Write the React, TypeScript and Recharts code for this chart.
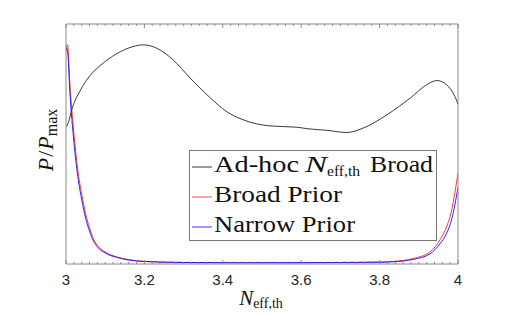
import { LineChart, Line, XAxis, YAxis } from 'recharts'

const W = 506
const H = 316
const BOX = '#8a8a8a'
const SERIF = '"Liberation Serif", "Times New Roman", serif'
const SANS = '"Liberation Sans", Arial, sans-serif'

// Ad-hoc N_eff,th, broad prior
const adhocX = [3.0, 3.006, 3.015, 3.036, 3.061, 3.087, 3.129, 3.171, 3.197, 3.231, 3.274, 3.316, 3.367, 3.41, 3.452, 3.52, 3.589, 3.617, 3.665, 3.716, 3.758, 3.818, 3.878, 3.92, 3.946, 3.971, 3.992, 4.0]
const adhocY = [0.625, 0.645, 0.706, 0.79, 0.859, 0.905, 0.959, 0.992, 1.0, 0.985, 0.93, 0.85, 0.76, 0.695, 0.658, 0.63, 0.624, 0.617, 0.61, 0.6, 0.62, 0.68, 0.757, 0.818, 0.837, 0.818, 0.764, 0.73]

// broad and narrow priors share the sample points
const priorX = [3.0, 3.004, 3.01, 3.02, 3.03, 3.04, 3.05, 3.06, 3.07, 3.08, 3.1, 3.13, 3.16, 3.2, 3.3, 3.4, 3.5, 3.6, 3.7, 3.8, 3.835, 3.886, 3.929, 3.954, 3.971, 3.984, 3.992, 4.0]
const broadY = [0.97, 1.0, 0.82, 0.6, 0.43, 0.32, 0.23, 0.165, 0.115, 0.085, 0.055, 0.032, 0.02, 0.012, 0.007, 0.006, 0.006, 0.006, 0.007, 0.009, 0.012, 0.025, 0.056, 0.11, 0.17, 0.247, 0.325, 0.415]
const narrowY = [0.99, 0.97, 0.78, 0.56, 0.4, 0.295, 0.21, 0.15, 0.105, 0.078, 0.05, 0.03, 0.018, 0.011, 0.007, 0.006, 0.006, 0.006, 0.007, 0.008, 0.01, 0.021, 0.047, 0.092, 0.14, 0.205, 0.27, 0.35]

const xTickLabels = [3, 3.2, 3.4, 3.6, 3.8, 4]
// minor ticks every 0.02
const xTicks = Array.from({ length: 51 }, (_, i) => 3 + i * 0.02)

const adhocData = adhocX.map((x, i) => ({ x, y: adhocY[i] }))
const broadData = priorX.map((x, i) => ({ x, y: broadY[i] }))
const narrowData = priorX.map((x, i) => ({ x, y: narrowY[i] }))

const isMajor = (v: number) => xTickLabels.some((t) => Math.abs(t - v) < 1e-6)

function BottomTick({ x, y, payload }: any) {
  const major = isMajor(payload.value)
  return (
    <g>
      <line x1={x} x2={x} y1={y} y2={y - (major ? 4 : 2)} stroke={BOX} />
      {major && (
        <text x={x} y={y + 21} textAnchor="middle" fontFamily={SANS} fontSize={15} fill="#262626">
          {Math.round(payload.value * 10) / 10}
        </text>
      )}
    </g>
  )
}

function TopTick({ x, y, payload }: any) {
  const major = isMajor(payload.value)
  return <line x1={x} x2={x} y1={y} y2={y + (major ? 4 : 2)} stroke={BOX} />
}

function XTitle({ viewBox }: any) {
  const { x, y, width } = viewBox
  return (
    <text x={x + width / 2 - 1} y={y + 41} textAnchor="middle" fontFamily={SERIF} fontSize={21} fill="#111">
      <tspan fontStyle="italic">N</tspan>
      <tspan fontSize={14} dy={3}>eff,th</tspan>
    </text>
  )
}

function YTitle() {
  return (
    <text
      x={53}
      y={140}
      transform="rotate(-90, 53, 140)"
      textAnchor="middle"
      fontFamily={SERIF}
      fontSize={22}
      fill="#111"
    >
      <tspan fontStyle="italic">P</tspan>
      <tspan dx={1}>/</tspan>
      <tspan fontStyle="italic" dx={1}>P</tspan>
      <tspan fontSize={16} dy={4}>max</tspan>
    </text>
  )
}

function LegendBox() {
  const rows = [
    { color: '#222', y: 22 },
    { color: '#ff3030', y: 52 },
    { color: '#2020ff', y: 82 },
  ]
  return (
    <svg
      width={249}
      height={92}
      style={{ position: 'absolute', left: 189, top: 150 }}
    >
      <rect x={0.5} y={0.5} width={247} height={90} fill="#fff" stroke="#777" />
      {rows.map((r) => (
        <line key={r.y} x1={3} x2={23} y1={r.y - 5} y2={r.y - 5} stroke={r.color} strokeWidth={0.9} />
      ))}
      <text x={25} y={22} fontFamily={SERIF} fontSize={23} fill="#111">
        <tspan textLength={85} lengthAdjust="spacingAndGlyphs">Ad-hoc</tspan>
        <tspan x={116} fontStyle="italic" textLength={22} lengthAdjust="spacingAndGlyphs">N</tspan>
        <tspan x={138} fontSize={15} dy={4} textLength={33} lengthAdjust="spacingAndGlyphs">eff,th</tspan>
        <tspan x={181} dy={-4} textLength={63} lengthAdjust="spacingAndGlyphs">Broad</tspan>
      </text>
      <text x={25} y={52} fontFamily={SERIF} fontSize={23} fill="#111" textLength={128} lengthAdjust="spacingAndGlyphs">
        Broad Prior
      </text>
      <text x={25} y={82} fontFamily={SERIF} fontSize={23} fill="#111" textLength={141} lengthAdjust="spacingAndGlyphs">
        Narrow Prior
      </text>
    </svg>
  )
}

export default function App() {
  return (
    <div style={{ position: 'absolute', left: 0, top: 0, width: W, height: H, background: '#fff' }}>
      <LineChart width={W} height={H} margin={{ top: 23, right: 47, bottom: 51, left: 65 }}>
        <XAxis
          xAxisId="bottom"
          dataKey="x"
          type="number"
          domain={[3, 4]}
          allowDataOverflow
          ticks={xTicks}
          interval={0}
          height={1}
          tickSize={0}
          tickMargin={0}
          tickLine={false}
          tick={<BottomTick />}
          stroke={BOX}
          label={<XTitle />}
        />
        <XAxis
          xAxisId="top"
          orientation="top"
          dataKey="x"
          type="number"
          domain={[3, 4]}
          allowDataOverflow
          ticks={xTicks}
          interval={0}
          height={1}
          tickSize={0}
          tickMargin={0}
          tickLine={false}
          tick={<TopTick />}
          stroke={BOX}
        />
        <YAxis
          yAxisId="left"
          type="number"
          domain={[0, 1.095]}
          allowDataOverflow
          width={1}
          tick={false}
          tickLine={false}
          stroke={BOX}
        />
        <YAxis
          yAxisId="right"
          orientation="right"
          type="number"
          domain={[0, 1.095]}
          width={1}
          tick={false}
          tickLine={false}
          stroke={BOX}
        />
        <Line
          xAxisId="bottom"
          yAxisId="left"
          data={adhocData}
          dataKey="y"
          type="monotone"
          stroke="#222"
          strokeWidth={0.9}
          dot={false}
          isAnimationActive={false}
        />
        <Line
          xAxisId="bottom"
          yAxisId="left"
          data={broadData}
          dataKey="y"
          type="monotone"
          stroke="#ff2020"
          strokeWidth={0.9}
          dot={false}
          isAnimationActive={false}
        />
        <Line
          xAxisId="bottom"
          yAxisId="left"
          data={narrowData}
          dataKey="y"
          type="monotone"
          stroke="#1010ff"
          strokeWidth={0.9}
          dot={false}
          isAnimationActive={false}
        />
        <YTitle />
      </LineChart>
      <LegendBox />
    </div>
  )
}
